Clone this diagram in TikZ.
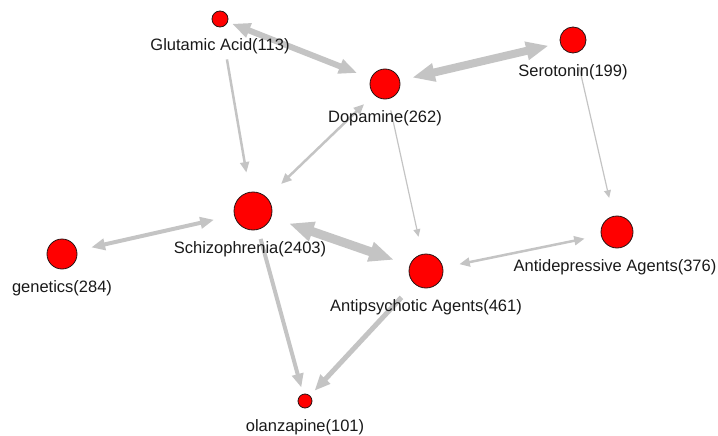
\documentclass[tikz,border=0pt]{standalone}
\usepackage{fontspec}
\setmainfont{Liberation Sans}
\usetikzlibrary{arrows.meta,backgrounds}
\definecolor{edgegray}{RGB}{196,196,196}
\definecolor{rimgray}{RGB}{40,20,20}
\begin{document}
\begin{tikzpicture}
	[x=1pt,y=-1pt,
	every node/.style={circle,draw=rimgray,fill=red,line width=0.8pt,inner sep=0pt,outer sep=0pt},
	every label/.style={draw=none,fill=none,rectangle,inner sep=0pt,text=black!90,font=\fontsize{16.5}{18}\selectfont},
	label distance=12pt,
	link/.style={draw=edgegray,line width=#1pt},
	>={Triangle[length=5pt 2.2,width=5pt 1.55]}]
	\useasboundingbox (0,0) rectangle (718,436);
	\node[minimum size=16pt,label=below:{Glutamic Acid(113)}] (glu) at (220,19) {};
	\node[minimum size=30pt,label=below:{Dopamine(262)}] (dop) at (385,84) {};
	\node[minimum size=26pt,label=below:{Serotonin(199)}] (ser) at (573,40) {};
	\node[minimum size=38pt,label={[xshift=-3pt]below:{Schizophrenia(2403)}}] (sch) at (253,211) {};
	\node[minimum size=30pt,label=below:{genetics(284)}] (gen) at (62,254) {};
	\node[minimum size=34pt,label=below:{Antipsychotic Agents(461)}] (aps) at (426,271) {};
	\node[minimum size=32pt,label={[xshift=-2pt]below:{Antidepressive Agents(376)}}] (adp) at (617,232) {};
	\node[minimum size=14pt,label=below:{olanzapine(101)}] (olz) at (305,401) {};
	\begin{scope}[on background layer]
	\draw[link=6,<->,shorten <=5pt,shorten >=15pt] (glu) -- (dop);
	\draw[link=8,<->,shorten <=13pt,shorten >=12pt] (dop) -- (ser);
	\draw[link=2.5,->,shorten <=33pt,shorten >=20pt] (glu) -- (sch);
	\draw[link=2.5,<->,shorten <=14pt,shorten >=20pt] (dop) -- (sch);
	\draw[link=1.2,->,shorten <=12pt,shorten >=18pt] (dop) -- (aps);
	\draw[link=1.2,->,shorten <=15pt,shorten >=19pt] (ser) -- (adp);
	\draw[link=4,<->,shorten <=15pt,shorten >=21pt] (gen) -- (sch);
	\draw[link=9,<->,shorten <=19pt,shorten >=17pt] (sch) -- (aps);
	\draw[link=2.5,<->,shorten <=17pt,shorten >=17pt] (aps) -- (adp);
	\draw[link=4,->,shorten <=10pt,shorten >=7pt] (sch) -- (olz);
	\draw[link=5,->,shorten <=19pt,shorten >=7pt] (aps) -- (olz);
	\end{scope}
\end{tikzpicture}
\end{document}
